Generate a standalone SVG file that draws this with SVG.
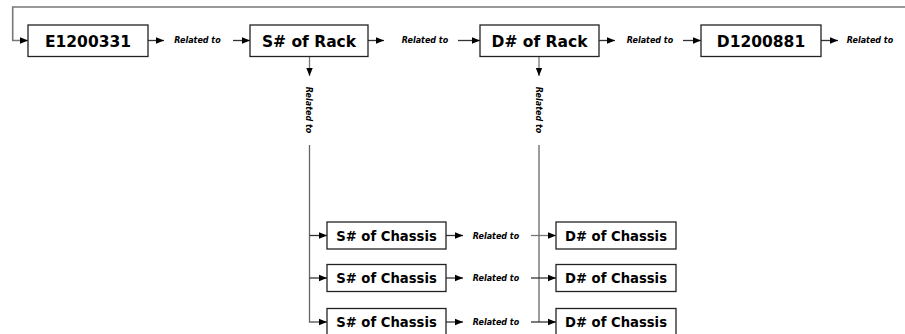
<svg xmlns="http://www.w3.org/2000/svg" width="905" height="334" viewBox="0 0 905 334">
<defs>
<marker id="ah" markerWidth="8" markerHeight="8" viewBox="0 0 8 8" refX="8" refY="4" orient="auto" markerUnits="userSpaceOnUse">
<path d="M0,0.8 L8,4 L0,7.2 Z" fill="#000"/>
</marker>
<style>
.box{fill:#fff;stroke:#222;stroke-width:1.3}
.big{font-family:"DejaVu Sans","Liberation Sans",sans-serif;font-weight:bold;font-size:15.5px;fill:#000;text-anchor:middle}
.sm{font-family:"DejaVu Sans","Liberation Sans",sans-serif;font-weight:bold;font-size:13.2px;fill:#000;text-anchor:middle}
.rel{font-family:"DejaVu Sans","Liberation Sans",sans-serif;font-weight:bold;font-style:italic;font-size:8px;fill:#000;text-anchor:middle}
.c{fill:none;stroke:#333;stroke-width:1.3}
.ca{fill:none;stroke:#333;stroke-width:1.3;marker-end:url(#ah)}
</style>
</defs>
<rect width="905" height="334" fill="#fff"/>
<g id="connectors">
<path d="M905,7 H12.7 V40.5 H28" class="ca" style="stroke:#777;stroke-width:1.6"/>
<path d="M148,40.5 H164" class="ca"/>
<path d="M233,40.5 H250" class="ca"/>
<path d="M368,40.5 H384" class="ca"/>
<path d="M458,40.5 H480" class="ca"/>
<path d="M599,40.5 H615" class="ca"/>
<path d="M683,40.5 H701" class="ca"/>
<path d="M821,40.5 H838" class="ca"/>
<path d="M309.5,57 V76" class="ca" style="stroke:#777"/>
<path d="M539,57 V76" class="ca" style="stroke:#777"/>
<path d="M309.5,145 V322 H327" class="ca" style="stroke:#666"/>
<path d="M309.5,235.5 H327" class="ca"/>
<path d="M309.5,278 H327" class="ca"/>
<path d="M539,145 V322" class="c" style="stroke:#666"/>
<path d="M531,235.5 H556" class="ca" style="stroke:#777"/>
<path d="M531,278 H556" class="ca"/>
<path d="M531,322 H556" class="ca"/>
<path d="M446,235.5 H463" class="ca"/>
<path d="M446,278 H463" class="ca"/>
<path d="M446,322 H463" class="ca"/>
<text class="rel" x="197.5" y="43">Related to</text>
<text class="rel" x="425" y="43">Related to</text>
<text class="rel" x="650" y="43">Related to</text>
<text class="rel" x="870" y="43">Related to</text>
<text class="rel" transform="translate(309,110) rotate(90)" dy="0.35em">Related to</text>
<text class="rel" transform="translate(539,110) rotate(90)" dy="0.35em">Related to</text>
<text class="rel" x="496" y="238.5">Related to</text>
<text class="rel" x="496" y="281">Related to</text>
<text class="rel" x="496" y="325">Related to</text>
</g>
<g id="n_e1200331"><rect class="box" x="28" y="25" width="120" height="31.5"/><text class="big" x="88" y="46.5">E1200331</text></g>
<g id="n_srack"><rect class="box" x="250" y="25" width="118" height="31.5"/><text class="big" x="309" y="46.5">S# of Rack</text></g>
<g id="n_drack"><rect class="box" x="480" y="25" width="119" height="31.5"/><text class="big" x="539.5" y="46.5">D# of Rack</text></g>
<g id="n_d1200881"><rect class="box" x="701" y="25" width="120" height="31.5"/><text class="big" x="761" y="46.5">D1200881</text></g>
<g id="n_sch1"><rect class="box" x="327" y="222" width="119" height="27"/><text class="sm" x="386.5" y="240.5">S# of Chassis</text></g>
<g id="n_sch2"><rect class="box" x="327" y="264.5" width="119" height="27"/><text class="sm" x="386.5" y="283">S# of Chassis</text></g>
<g id="n_sch3"><rect class="box" x="327" y="308.5" width="119" height="27"/><text class="sm" x="386.5" y="327">S# of Chassis</text></g>
<g id="n_dch1"><rect class="box" x="556" y="222" width="120" height="27"/><text class="sm" x="616" y="240.5">D# of Chassis</text></g>
<g id="n_dch2"><rect class="box" x="556" y="264.5" width="120" height="27"/><text class="sm" x="616" y="283">D# of Chassis</text></g>
<g id="n_dch3"><rect class="box" x="556" y="308.5" width="120" height="27"/><text class="sm" x="616" y="327">D# of Chassis</text></g>
</svg>
